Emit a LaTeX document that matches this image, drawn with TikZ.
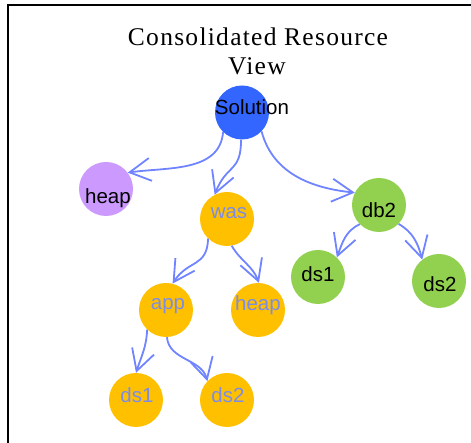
\documentclass[tikz,border=0pt]{standalone}
\usepackage{fontspec}
\setmainfont{Liberation Serif}
\newfontfamily\nodefont{Liberation Sans}
\newfontfamily\titlefont[LetterSpace=5]{Liberation Serif}
\usetikzlibrary{arrows.meta}
\definecolor{arrowc}{RGB}{112,132,255}
\definecolor{otext}{RGB}{125,140,230}
\definecolor{solblue}{RGB}{51,102,255}
\definecolor{purp}{RGB}{204,153,255}
\definecolor{orng}{RGB}{255,192,0}
\definecolor{grn}{RGB}{146,208,80}
\begin{document}
\begin{tikzpicture}[x=1pt,y=1pt,
  circ/.style={circle, minimum size=54pt, inner sep=0pt, draw=none},
  lbl/.style={font=\nodefont\fontsize{20.5}{24}\selectfont, inner sep=0pt},
  conn/.style={draw=arrowc, line width=1.8pt, -{Straight Barb[length=21pt,width=23pt]}},
  ttl/.style={font=\titlefont\fontsize{25.5}{30}\selectfont, inner sep=0pt, anchor=base}
 ]
\useasboundingbox (0,0) rectangle (471,443);
\clip (0,0) rectangle (471,443);
\draw[line width=2pt] (8,-5) -- (8,438) -- (480,438);

\node[ttl] (t1) at (258,397.3) {Consolidated Resource};
\node[ttl] (t2) at (257,368) {View};

\node[circ, fill=solblue] (sol) at (242,330.5) {};
\node[circ, fill=purp] (heapP) at (106,254) {};
\node[circ, fill=orng] (was) at (227,224) {};
\node[circ, fill=orng] (app) at (166,133) {};
\node[circ, fill=orng] (heapO) at (258,133) {};
\node[circ, fill=orng] (ds1O) at (136,43) {};
\node[circ, fill=orng] (ds2O) at (227,43) {};
\node[circ, fill=grn] (db2) at (379,238) {};
\node[circ, fill=grn] (ds1G) at (318,166) {};
\node[circ, fill=grn] (ds2G) at (439,162) {};

\node[lbl, text=black] (solT) at (252,336) {Solution};
\node[lbl, text=black] (heapPT) at (108,244.5) {heap};
\node[lbl, text=otext] (wasT) at (229,229.5) {was};
\node[lbl, text=otext] (appT) at (168,137) {app};
\node[lbl, text=otext] (heapOT) at (258,137.5) {heap};
\node[lbl, text=otext] (ds1OT) at (137,48) {ds1};
\node[lbl, text=otext] (ds2OT) at (228,48) {ds2};
\node[lbl, text=black] (db2T) at (379,233) {db2};
\node[lbl, text=black] (ds1GT) at (318,169) {ds1};
\node[lbl, text=black] (ds2GT) at (440,158.5) {ds2};

\draw[conn] (sol.226) to[out=265,in=8] (heapP.37);
\draw[conn] (sol.268) to[out=270,in=69,looseness=1.4] (was.117);
\draw[conn] (sol.316) to[out=285,in=174] (db2.153);
\draw[conn] (was.226) to[out=268,in=57,looseness=1.3] (app.76);
\draw[conn] (was.280) to[out=300,in=110] (heapO.88);
\draw[conn] (app.226) to[out=268,in=72] (ds1O.90);
\draw[conn] (app.272) to[out=275,in=105] (ds2O.136);
\draw[conn] (db2.225) to[out=205,in=70] (ds1G.46);
\draw[conn] (db2.316) to[out=330,in=105] (ds2G.128);
\end{tikzpicture}
\end{document}
